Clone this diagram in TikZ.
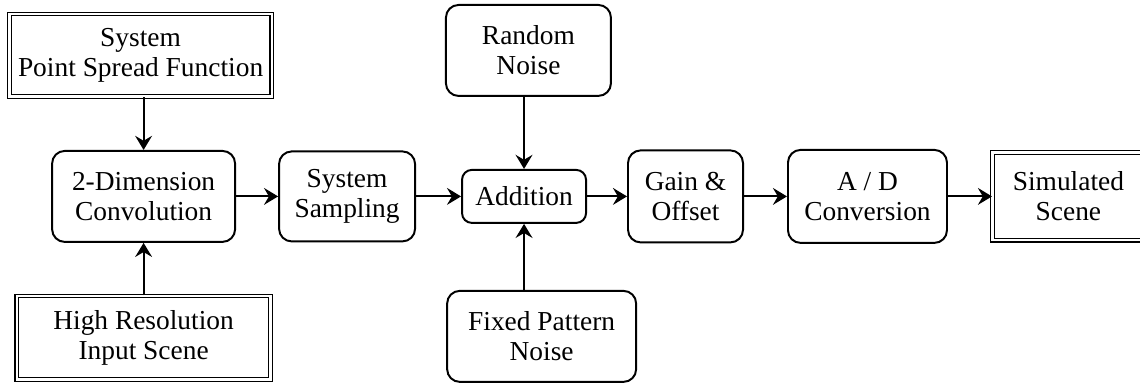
\documentclass[tikz,border=0pt]{standalone}
\usepackage{fontspec}
\setmainfont{Liberation Serif}
\usetikzlibrary{arrows.meta,positioning}

\begin{document}
\begin{tikzpicture}[
    every node/.style={font=\fontsize{19.5}{21.3}\selectfont, align=center, inner sep=0pt},
    stage/.style={draw, line width=1.4pt, rounded corners=9pt},
    io/.style={draw, line width=0.9pt, double, double distance=1.6pt},
    flow/.style={-{Stealth[length=10pt, width=12pt, inset=3.5pt]}, line width=1.4pt}]
  \useasboundingbox (0,0) rectangle (28.5,-9.575);
  % processing chain
  \node[stage, minimum width=4.575cm, minimum height=2.275cm] (conv) at (3.59,-4.91) {2-Dimension\\Convolution};
  \node[stage, minimum width=3.4cm, minimum height=2.25cm, right=1.05cm of conv] (samp) {System\\Sampling};
  \node[stage, minimum width=3.1cm, minimum height=1.325cm, rounded corners=7pt, right=1.125cm of samp] (add) {Addition};
  \node[stage, minimum width=2.875cm, minimum height=2.3cm, right=1.0cm of add] (gain) {Gain \&\\Offset};
  \node[stage, minimum width=3.975cm, minimum height=2.325cm, right=1.075cm of gain] (adc) {A / D\\Conversion};
  \node[io, minimum width=3.79cm, minimum height=2.19cm, right=1.1cm of adc] (sim) {Simulated\\Scene};
  % inputs above and below
  \node[io, minimum width=6.56cm, minimum height=2.06cm, above=1.32cm of conv, xshift=-0.075cm] (psf) {System\\Point Spread Function};
  \node[io, minimum width=6.34cm, minimum height=2.09cm, below=1.31cm of conv] (hires) {High Resolution\\Input Scene};
  \node[stage, minimum width=4.125cm, minimum height=2.275cm, above=1.8cm of add, xshift=0.11cm] (rand) {Random\\Noise};
  \node[stage, minimum width=4.725cm, minimum height=2.275cm, below=1.65cm of add, xshift=0.44cm] (fpn) {Fixed Pattern\\Noise};
  \draw[flow] (conv) -- (samp);
  \draw[flow] (samp) -- (add);
  \draw[flow] (add) -- (gain);
  \draw[flow] (gain) -- (adc);
  \draw[flow] (adc) -- (sim);
  \draw[flow] (conv.north |- psf.south) -- (conv.north);
  \draw[flow] (conv.south |- hires.north) -- (conv.south);
  \draw[flow] (add.north |- rand.south) -- (add.north);
  \draw[flow] (add.south |- fpn.north) -- (add.south);
\end{tikzpicture}
\end{document}
